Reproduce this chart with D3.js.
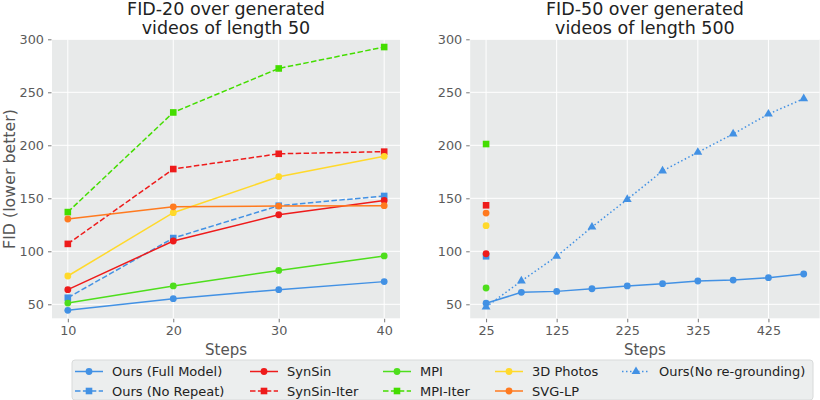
<!DOCTYPE html>
<html><head><meta charset="utf-8">
<script src="https://cdn.jsdelivr.net/npm/d3@7"></script>
<style>body{margin:0;background:#fff;}svg{display:block;font-family:"DejaVu Sans",sans-serif;}</style>
</head><body><svg id="c" width="820" height="400"></svg>
<script>
// ---- data ----
const stepsShort = [10, 20, 30, 40];
const oursFull = [44.3, 55.3, 63.8, 71.4];
const oursNoRepeat = [56.2, 112.5, 143.0, 152.2];
const synSin = [63.8, 109.7, 134.5, 148.0];
const synSinIter = [107.0, 177.6, 192.0, 194.0];
const mpi = [51.2, 67.3, 82.0, 95.6];
const mpiIter = [137.0, 231.0, 272.5, 292.7];
const photos3d = [76.7, 136.4, 170.4, 189.6];
const svgLp = [130.5, 142.0, 142.7, 143.0];

const stepsLong = [25, 75, 125, 175, 225, 275, 325, 375, 425, 475];
const oursFullLong = [51.0, 61.3, 62.2, 64.7, 67.3, 69.5, 72.0, 72.9, 75.1, 78.6];
const oursNoRegrounding = [47.5, 72.0, 95.3, 122.9, 149.0, 175.8, 193.4, 210.7, 229.5, 244.0];
const longStep0 = [25];
const oursNoRepeatLong = [95.3];
const synSinLong = [97.7];
const synSinIterLong = [143.4];
const mpiLong = [65.4];
const mpiIterLong = [201.2];
const photos3dLong = [124.2];
const svgLpLong = [136.1];

const yTicks = [50, 100, 150, 200, 250, 300];
const xTicksShort = [10, 20, 30, 40];
const xTicksLong = [25, 125, 225, 325, 425];
const titles = [["FID-20 over generated", "videos of length 50"], ["FID-50 over generated", "videos of length 500"]];
const yLabel = "FID (lower better)";
const xLabel = "Steps";

const C = {blue:"#4291e4", red:"#ee1b1b", green:"#4ede1c", green2:"#44dd00", yellow:"#ffd92b", orange:"#ff7a1f"};
const styles = {
  oursFull:{name:"Ours (Full Model)", color:C.blue, dash:null, marker:"circle"},
  oursNoRepeat:{name:"Ours (No Repeat)", color:C.blue, dash:"5.5,2.4", marker:"square"},
  synSin:{name:"SynSin", color:C.red, dash:null, marker:"circle"},
  synSinIter:{name:"SynSin-Iter", color:C.red, dash:"5.5,2.4", marker:"square"},
  mpi:{name:"MPI", color:C.green, dash:null, marker:"circle"},
  mpiIter:{name:"MPI-Iter", color:C.green2, dash:"5.5,2.4", marker:"square"},
  photos3d:{name:"3D Photos", color:C.yellow, dash:null, marker:"circle"},
  svgLp:{name:"SVG-LP", color:C.orange, dash:null, marker:"circle"},
  noRegr:{name:"Ours(No re-grounding)", color:C.blue, dash:"1.5,2.5", marker:"triangle"}
};

const svg = d3.select("#c");
const bg = "#e8eaea";

function drawMarker(g, type, x, y, color){
  if(type==="circle") g.append("circle").attr("cx",x).attr("cy",y).attr("r",3.4).attr("fill",color);
  else if(type==="square") g.append("rect").attr("x",x-3.3).attr("y",y-3.3).attr("width",6.6).attr("height",6.6).attr("fill",color);
  else g.append("path").attr("d",d3.symbol(d3.symbolTriangle,34)()).attr("transform",`translate(${x},${y})`).attr("fill",color);
}

function panel(opts){
  const x = d3.scaleLinear().domain(opts.xDomain).range(opts.xRange);
  const y = d3.scaleLinear().domain([36.8, 300]).range([318.3, 39.3]);
  const g = svg.append("g");
  g.append("rect").attr("x",opts.xRange[0]).attr("y",39.3).attr("width",opts.xRange[1]-opts.xRange[0]).attr("height",318.3-39.3).attr("fill",bg);
  // grid
  g.selectAll(null).data(yTicks).join("line").attr("x1",opts.xRange[0]).attr("x2",opts.xRange[1]).attr("y1",d=>y(d)).attr("y2",d=>y(d)).attr("stroke","#fff").attr("stroke-width",1);
  g.selectAll(null).data(opts.xTicks).join("line").attr("y1",39.3).attr("y2",318.3).attr("x1",d=>x(d)).attr("x2",d=>x(d)).attr("stroke","#fff").attr("stroke-width",1);
  // axes
  const ya = d3.axisLeft(y).tickValues(yTicks).tickSize(3.5).tickPadding(4);
  const ag = g.append("g").attr("transform",`translate(${opts.xRange[0]-0.5},0)`).call(ya);
  const xa = d3.axisBottom(x).tickValues(opts.xTicks).tickSize(3.5).tickPadding(4);
  const bg2 = g.append("g").attr("transform",`translate(0,${318.8})`).call(xa);
  [ag,bg2].forEach(a=>{
    a.select(".domain").remove();
    a.selectAll(".tick line").attr("stroke","#777");
    a.selectAll("text").attr("fill","#5a5a5a").attr("font-size","12.8px").attr("font-family","DejaVu Sans");
  });
  // titles
  const cx = (opts.xRange[0]+opts.xRange[1])/2;
  g.append("text").attr("x",cx).attr("y",15).attr("text-anchor","middle").attr("font-size","17.5px").attr("fill","#222").text(opts.title[0]);
  g.append("text").attr("x",cx).attr("y",33.5).attr("text-anchor","middle").attr("font-size","17.5px").attr("fill","#222").text(opts.title[1]);
  g.append("text").attr("x",cx).attr("y",355).attr("text-anchor","middle").attr("font-size","15px").attr("fill","#555").text(xLabel);
  // series
  opts.series.forEach(s=>{
    const st = styles[s.key];
    const pts = s.xs.map((xv,i)=>[x(xv), y(s.ys[i])]);
    if(pts.length>1){
      g.append("path").attr("d",d3.line()(pts)).attr("fill","none").attr("stroke",st.color).attr("stroke-width",1.5).attr("stroke-dasharray",st.dash);
    }
    pts.forEach(p=>drawMarker(g, st.marker, p[0], p[1], st.color));
  });
  return {x,y};
}

panel({xDomain:[8.5,41.5], xRange:[52,400], xTicks:xTicksShort, title:titles[0], series:[
  {key:"oursFull", xs:stepsShort, ys:oursFull},
  {key:"oursNoRepeat", xs:stepsShort, ys:oursNoRepeat},
  {key:"synSin", xs:stepsShort, ys:synSin},
  {key:"synSinIter", xs:stepsShort, ys:synSinIter},
  {key:"mpi", xs:stepsShort, ys:mpi},
  {key:"mpiIter", xs:stepsShort, ys:mpiIter},
  {key:"photos3d", xs:stepsShort, ys:photos3d},
  {key:"svgLp", xs:stepsShort, ys:svgLp}
]});
panel({xDomain:[2.5,497.5], xRange:[470.2,819.6], xTicks:xTicksLong, title:titles[1], series:[
  {key:"oursFull", xs:stepsLong, ys:oursFullLong},
  {key:"oursNoRepeat", xs:longStep0, ys:oursNoRepeatLong},
  {key:"synSin", xs:longStep0, ys:synSinLong},
  {key:"synSinIter", xs:longStep0, ys:synSinIterLong},
  {key:"mpi", xs:longStep0, ys:mpiLong},
  {key:"mpiIter", xs:longStep0, ys:mpiIterLong},
  {key:"photos3d", xs:longStep0, ys:photos3dLong},
  {key:"svgLp", xs:longStep0, ys:svgLpLong},
  {key:"noRegr", xs:stepsLong, ys:oursNoRegrounding}
]});

// y label
svg.append("text").attr("transform","translate(14.5,179) rotate(-90)").attr("text-anchor","middle").attr("font-size","15.8px").attr("fill","#555").text(yLabel);

// legend
const lg = svg.append("g");
lg.append("rect").attr("x",72).attr("y",360).attr("width",741).attr("height",40).attr("rx",3).attr("fill","#eceeee").attr("stroke","#d8dada");
const legendCols = [["oursFull","oursNoRepeat"],["synSin","synSinIter"],["mpi","mpiIter"],["photos3d","svgLp"],["noRegr"]];
const colX = [75, 250, 383, 495, 622];
const rowY = [371.5, 391];
legendCols.forEach((col,ci)=>col.forEach((k,ri)=>{
  const st = styles[k]; const x0 = colX[ci], yy = rowY[ri];
  lg.append("line").attr("x1",x0).attr("x2",x0+28).attr("y1",yy).attr("y2",yy).attr("stroke",st.color).attr("stroke-width",1.5).attr("stroke-dasharray",st.dash);
  drawMarker(lg, st.marker, x0+14, yy, st.color);
  lg.append("text").attr("x",x0+37).attr("y",yy+4.5).attr("font-size","13px").attr("fill","#222").text(st.name);
}));
</script></body></html>
